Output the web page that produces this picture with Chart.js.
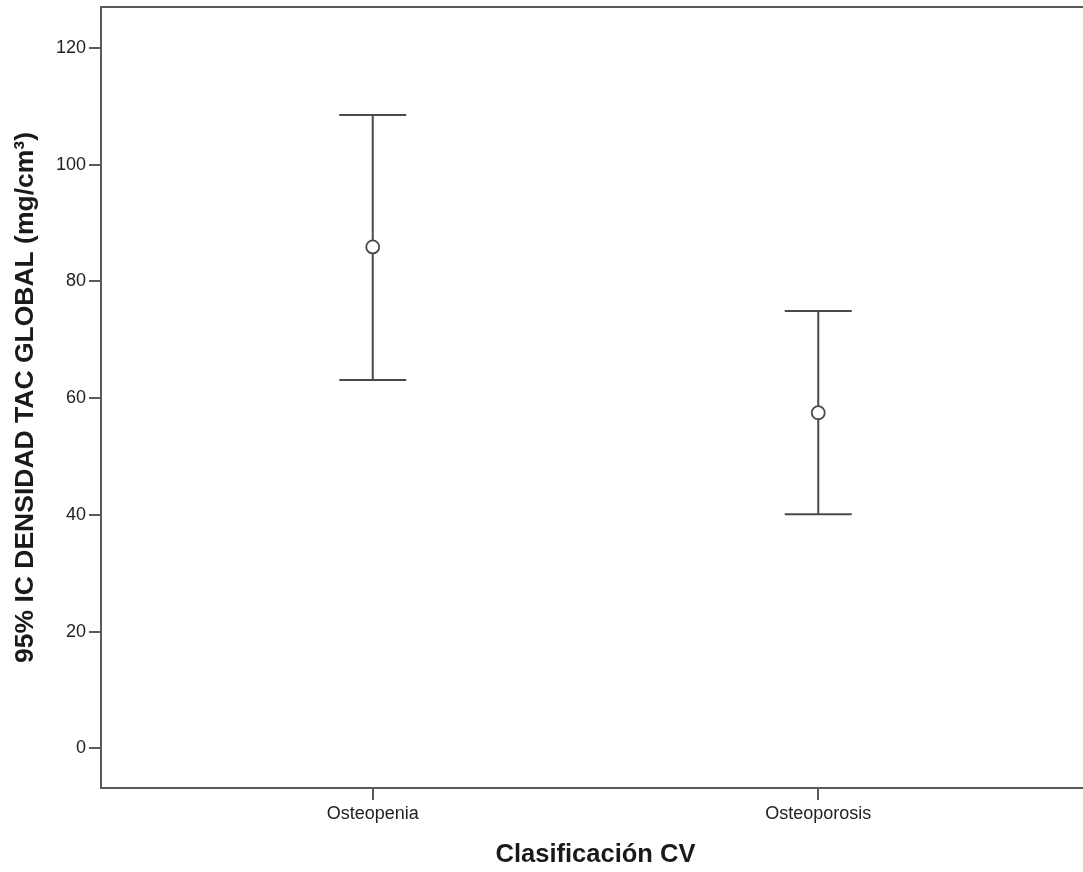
<!DOCTYPE html>
<html>
<head>
<meta charset="utf-8">
<script src="https://cdn.jsdelivr.net/npm/chart.js@4"></script>
<style>
    body { margin: 0; overflow: hidden; background: #fff; }
    #grafico { display: block; }
</style>
</head>
<body>
<canvas id="grafico" width="1090" height="872"></canvas>
<script>
// datos (IC 95%)
const categorias = ['Osteopenia', 'Osteoporosis'];
const medias = [85.9, 57.5];
const limInferior = [63.1, 40.1];
const limSuperior = [108.5, 74.9];
const ticksY = [0, 20, 40, 60, 80, 100, 120];

const corLinha = '#4a4a4a';
const corEixo = '#5a5a5a';

// marco superior (el borde derecho queda fuera de la imagen)
const marcoSuperior = {
    id: 'marcoSuperior',
    afterDraw(chart) {
        const a = chart.chartArea;
        const ctx = chart.ctx;
        ctx.save();
        ctx.strokeStyle = corEixo;
        ctx.lineWidth = 2;
        ctx.beginPath();
        ctx.moveTo(a.left, a.top);
        ctx.lineTo(a.right, a.top);
        ctx.stroke();
        ctx.restore();
    }
};

function montarGrafico() {
    const ctx = document.getElementById('grafico').getContext('2d');

    const datasets = [];

    // medias: circulos vacios
    datasets.push({
        type: 'scatter',
        data: categorias.map((c, i) => ({x: i, y: medias[i]})),
        pointStyle: 'circle',
        pointRadius: 6.5,
        pointBorderWidth: 1.8,
        pointBorderColor: corLinha,
        pointBackgroundColor: '#ffffff',
        order: 0
    });

    categorias.forEach((c, i) => {
        // linea vertical del intervalo
        datasets.push({
            type: 'line',
            data: [{x: i, y: limInferior[i]}, {x: i, y: limSuperior[i]}],
            borderColor: corLinha,
            borderWidth: 2,
            pointRadius: 0,
            order: 1
        });
        // extremos
        datasets.push({
            type: 'scatter',
            data: [{x: i, y: limInferior[i]}, {x: i, y: limSuperior[i]}],
            pointStyle: 'line',
            pointRadius: 33.5,
            pointBorderWidth: 2,
            pointBorderColor: corLinha,
            order: 1
        });
    });

    new Chart(ctx, {
        type: 'scatter',
        data: {datasets: datasets},
        options: {
            responsive: false,
            animation: false,
            layout: {autoPadding: false, padding: {top: 7, left: 0, right: 0, bottom: 0}},
            plugins: {
                legend: {display: false},
                tooltip: {enabled: false}
            },
            scales: {
                x: {
                    type: 'linear',
                    min: -0.61,
                    max: 1.61,
                    afterBuildTicks: s => { s.ticks = categorias.map((c, i) => ({value: i})); },
                    afterFit: s => { s.height = 84; s.paddingLeft = 0; s.paddingRight = 0; },
                    ticks: {
                        callback: v => categorias[v],
                        color: '#222',
                        padding: 3,
                        maxRotation: 0,
                        font: {family: "'Liberation Sans', Arial, sans-serif", size: 18}
                    },
                    grid: {drawOnChartArea: false, drawTicks: true, tickLength: 12, color: corEixo, lineWidth: 2},
                    border: {display: true, color: corEixo, width: 2},
                    title: {
                        display: true,
                        text: 'Clasificación CV',
                        color: '#1a1a1a',
                        padding: {top: 0, bottom: 2},
                        font: {family: "'Liberation Sans', Arial, sans-serif", size: 25.5, weight: 'bold'}
                    }
                },
                y: {
                    min: -6.8,
                    max: 127,
                    afterBuildTicks: s => { s.ticks = ticksY.map(v => ({value: v})); },
                    afterFit: s => { s.width = 101; s.paddingTop = 0; s.paddingBottom = 0; },
                    ticks: {
                        color: '#222',
                        padding: 3,
                        font: {family: "'Liberation Sans', Arial, sans-serif", size: 18}
                    },
                    grid: {drawOnChartArea: false, drawTicks: true, tickLength: 12, color: corEixo, lineWidth: 2},
                    border: {display: true, color: corEixo, width: 2},
                    title: {
                        display: true,
                        text: '95% IC DENSIDAD TAC GLOBAL (mg/cm³)',
                        color: '#1a1a1a',
                        padding: {top: 10, bottom: 0},
                        font: {family: "'Liberation Sans', Arial, sans-serif", size: 26.5, weight: 'bold'}
                    }
                }
            }
        },
        plugins: [marcoSuperior]
    });
}

montarGrafico();
</script>
</body>
</html>
